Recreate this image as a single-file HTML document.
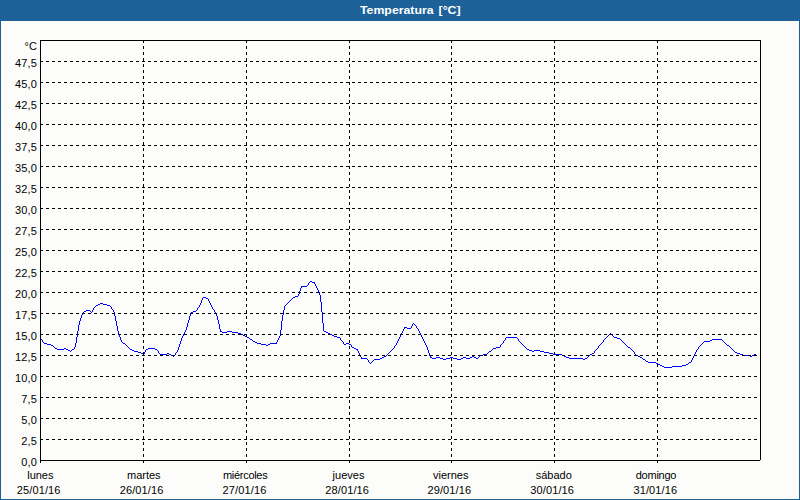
<!DOCTYPE html>
<html><head><meta charset="utf-8"><title>Temperatura</title>
<style>
html,body{margin:0;padding:0;}
body{width:800px;height:500px;overflow:hidden;background:#fcfdfa;position:relative;font-family:"Liberation Sans",sans-serif;font-size:11px;color:#000;}
#frame{position:absolute;left:0;top:0;width:798px;height:478px;border:1px solid #1c6096;border-top:21px solid #1c6096;}
#title{position:absolute;left:360px;top:0;height:20px;line-height:20px;white-space:nowrap;color:#fff;font-weight:bold;font-size:11px;transform:scaleX(1.118);transform-origin:0 0;word-spacing:1.4px;}
svg{position:absolute;left:0;top:0;}
#title{z-index:2;}
.yl{position:absolute;left:0;width:37.2px;text-align:right;height:13px;line-height:13px;white-space:nowrap;letter-spacing:0.2px;}
.xl{position:absolute;height:13px;line-height:13px;white-space:nowrap;}
</style></head><body>
<div id="frame"></div>
<div id="title"><span id="tt">Temperatura [°C]</span></div>
<svg width="800" height="500" viewBox="0 0 800 500">
<defs><pattern id="dz" x="0" y="0" width="4" height="4" patternUnits="userSpaceOnUse"><rect x="0" y="1" width="1" height="1" fill="#2468b8"/><rect x="2" y="3" width="1" height="1" fill="#2468b8"/></pattern></defs>
<rect x="0" y="0" width="800" height="21" fill="url(#dz)" shape-rendering="crispEdges"/>
<path fill="#0000ff" stroke="none" shape-rendering="crispEdges" d="M40 338h1v1h-1zM41 339h1v1h-1zM42 340h1v2h-1zM43 342h1v1h-1zM44 343h1v1h-1zM45 343h1v1h-1zM46 343h1v1h-1zM47 344h1v1h-1zM48 344h1v1h-1zM49 344h1v1h-1zM50 344h1v1h-1zM51 345h1v1h-1zM52 345h1v1h-1zM53 346h1v1h-1zM54 347h1v1h-1zM55 348h1v1h-1zM56 348h1v1h-1zM57 349h1v1h-1zM58 349h1v1h-1zM59 349h1v1h-1zM60 349h1v1h-1zM61 349h1v1h-1zM62 349h1v1h-1zM63 349h1v1h-1zM64 348h1v1h-1zM65 348h1v1h-1zM66 349h1v1h-1zM67 349h1v1h-1zM68 350h1v1h-1zM69 350h1v1h-1zM70 351h1v1h-1zM71 350h1v1h-1zM72 349h1v1h-1zM73 349h1v1h-1zM74 347h1v2h-1zM75 343h1v4h-1zM76 337h1v6h-1zM77 331h1v6h-1zM78 325h1v6h-1zM79 321h1v4h-1zM80 318h1v3h-1zM81 315h1v3h-1zM82 313h1v2h-1zM83 312h1v1h-1zM84 311h1v1h-1zM85 311h1v1h-1zM86 310h1v1h-1zM87 310h1v1h-1zM88 310h1v1h-1zM89 310h1v1h-1zM90 311h1v1h-1zM91 312h1v1h-1zM92 310h1v2h-1zM93 308h1v2h-1zM94 307h1v1h-1zM95 306h1v1h-1zM96 305h1v1h-1zM97 305h1v1h-1zM98 304h1v1h-1zM99 304h1v1h-1zM100 303h1v1h-1zM101 303h1v1h-1zM102 303h1v1h-1zM103 304h1v1h-1zM104 304h1v1h-1zM105 304h1v1h-1zM106 304h1v1h-1zM107 305h1v1h-1zM108 305h1v1h-1zM109 305h1v1h-1zM110 306h1v1h-1zM111 307h1v2h-1zM112 309h1v1h-1zM113 310h1v2h-1zM114 312h1v4h-1zM115 316h1v5h-1zM116 321h1v5h-1zM117 326h1v5h-1zM118 331h1v4h-1zM119 335h1v2h-1zM120 337h1v3h-1zM121 340h1v2h-1zM122 342h1v1h-1zM123 343h1v1h-1zM124 343h1v1h-1zM125 344h1v1h-1zM126 345h1v1h-1zM127 346h1v1h-1zM128 347h1v1h-1zM129 348h1v1h-1zM130 349h1v1h-1zM131 349h1v1h-1zM132 350h1v1h-1zM133 350h1v1h-1zM134 351h1v1h-1zM135 351h1v1h-1zM136 351h1v1h-1zM137 351h1v1h-1zM138 352h1v1h-1zM139 352h1v1h-1zM140 352h1v1h-1zM141 353h1v1h-1zM142 353h1v1h-1zM143 354h1v1h-1zM144 352h1v2h-1zM145 350h1v2h-1zM146 349h1v1h-1zM147 349h1v1h-1zM148 348h1v1h-1zM149 348h1v1h-1zM150 348h1v1h-1zM151 348h1v1h-1zM152 348h1v1h-1zM153 348h1v1h-1zM154 348h1v1h-1zM155 349h1v1h-1zM156 349h1v1h-1zM157 350h1v1h-1zM158 351h1v2h-1zM159 353h1v1h-1zM160 354h1v1h-1zM161 354h1v1h-1zM162 354h1v1h-1zM163 354h1v1h-1zM164 354h1v1h-1zM165 354h1v1h-1zM166 354h1v1h-1zM167 353h1v1h-1zM168 353h1v1h-1zM169 354h1v1h-1zM170 354h1v1h-1zM171 355h1v1h-1zM172 355h1v1h-1zM173 356h1v1h-1zM174 355h1v1h-1zM175 353h1v2h-1zM176 352h1v1h-1zM177 350h1v2h-1zM178 347h1v3h-1zM179 344h1v3h-1zM180 341h1v3h-1zM181 338h1v3h-1zM182 336h1v2h-1zM183 334h1v2h-1zM184 332h1v2h-1zM185 330h1v2h-1zM186 327h1v3h-1zM187 323h1v4h-1zM188 320h1v3h-1zM189 316h1v4h-1zM190 314h1v2h-1zM191 312h1v2h-1zM192 312h1v1h-1zM193 311h1v1h-1zM194 311h1v1h-1zM195 311h1v1h-1zM196 310h1v1h-1zM197 308h1v2h-1zM198 307h1v1h-1zM199 305h1v2h-1zM200 303h1v2h-1zM201 300h1v3h-1zM202 298h1v2h-1zM203 297h1v1h-1zM204 297h1v1h-1zM205 297h1v1h-1zM206 298h1v1h-1zM207 298h1v1h-1zM208 299h1v2h-1zM209 301h1v2h-1zM210 303h1v2h-1zM211 305h1v2h-1zM212 307h1v2h-1zM213 309h1v1h-1zM214 310h1v2h-1zM215 312h1v2h-1zM216 314h1v2h-1zM217 316h1v4h-1zM218 320h1v4h-1zM219 324h1v5h-1zM220 329h1v3h-1zM221 331h1v1h-1zM222 332h1v1h-1zM223 332h1v1h-1zM224 332h1v1h-1zM225 332h1v1h-1zM226 332h1v1h-1zM227 331h1v1h-1zM228 331h1v1h-1zM229 331h1v1h-1zM230 331h1v1h-1zM231 331h1v1h-1zM232 332h1v1h-1zM233 332h1v1h-1zM234 332h1v1h-1zM235 332h1v1h-1zM236 332h1v1h-1zM237 332h1v1h-1zM238 333h1v1h-1zM239 333h1v1h-1zM240 333h1v1h-1zM241 334h1v1h-1zM242 334h1v1h-1zM243 335h1v1h-1zM244 335h1v1h-1zM245 336h1v1h-1zM246 336h1v1h-1zM247 337h1v1h-1zM248 337h1v1h-1zM249 338h1v1h-1zM250 339h1v1h-1zM251 339h1v1h-1zM252 340h1v1h-1zM253 341h1v1h-1zM254 341h1v1h-1zM255 342h1v1h-1zM256 342h1v1h-1zM257 343h1v1h-1zM258 343h1v1h-1zM259 343h1v1h-1zM260 343h1v1h-1zM261 344h1v1h-1zM262 344h1v1h-1zM263 344h1v1h-1zM264 344h1v1h-1zM265 344h1v1h-1zM266 345h1v1h-1zM267 345h1v1h-1zM268 344h1v1h-1zM269 344h1v1h-1zM270 343h1v1h-1zM271 343h1v1h-1zM272 343h1v1h-1zM273 343h1v1h-1zM274 343h1v1h-1zM275 343h1v1h-1zM276 342h1v2h-1zM277 340h1v2h-1zM278 338h1v2h-1zM279 336h1v2h-1zM280 330h1v6h-1zM281 321h1v9h-1zM282 315h1v6h-1zM283 310h1v5h-1zM284 306h1v4h-1zM285 305h1v1h-1zM286 304h1v1h-1zM287 303h1v1h-1zM288 302h1v1h-1zM289 301h1v1h-1zM290 300h1v1h-1zM291 299h1v1h-1zM292 298h1v1h-1zM293 297h1v1h-1zM294 297h1v1h-1zM295 296h1v1h-1zM296 296h1v1h-1zM297 296h1v1h-1zM298 294h1v2h-1zM299 291h1v3h-1zM300 288h1v3h-1zM301 286h1v2h-1zM302 286h1v1h-1zM303 286h1v1h-1zM304 286h1v1h-1zM305 286h1v1h-1zM306 286h1v1h-1zM307 285h1v1h-1zM308 283h1v2h-1zM309 282h1v1h-1zM310 281h1v1h-1zM311 281h1v1h-1zM312 282h1v1h-1zM313 282h1v1h-1zM314 282h1v2h-1zM315 284h1v2h-1zM316 286h1v2h-1zM317 288h1v2h-1zM318 290h1v2h-1zM319 292h1v3h-1zM320 295h1v7h-1zM321 302h1v10h-1zM322 312h1v11h-1zM323 323h1v8h-1zM324 331h1v1h-1zM325 331h1v1h-1zM326 332h1v1h-1zM327 332h1v1h-1zM328 333h1v1h-1zM329 333h1v1h-1zM330 334h1v1h-1zM331 334h1v1h-1zM332 335h1v1h-1zM333 335h1v1h-1zM334 336h1v1h-1zM335 336h1v1h-1zM336 336h1v1h-1zM337 337h1v1h-1zM338 337h1v1h-1zM339 337h1v1h-1zM340 338h1v2h-1zM341 340h1v1h-1zM342 341h1v1h-1zM343 342h1v2h-1zM344 344h1v1h-1zM345 344h1v1h-1zM346 343h1v1h-1zM347 343h1v1h-1zM348 343h1v1h-1zM349 344h1v1h-1zM350 344h1v1h-1zM351 345h1v2h-1zM352 347h1v1h-1zM353 347h1v1h-1zM354 348h1v1h-1zM355 348h1v1h-1zM356 349h1v1h-1zM357 349h1v2h-1zM358 351h1v2h-1zM359 353h1v2h-1zM360 355h1v2h-1zM361 357h1v2h-1zM362 358h1v1h-1zM363 358h1v1h-1zM364 358h1v1h-1zM365 358h1v1h-1zM366 358h1v1h-1zM367 359h1v1h-1zM368 360h1v2h-1zM369 362h1v1h-1zM370 363h1v1h-1zM371 362h1v1h-1zM372 361h1v1h-1zM373 360h1v1h-1zM374 359h1v1h-1zM375 359h1v1h-1zM376 359h1v1h-1zM377 359h1v1h-1zM378 359h1v1h-1zM379 359h1v1h-1zM380 358h1v1h-1zM381 358h1v1h-1zM382 357h1v1h-1zM383 357h1v1h-1zM384 356h1v1h-1zM385 356h1v1h-1zM386 355h1v1h-1zM387 354h1v1h-1zM388 353h1v1h-1zM389 352h1v1h-1zM390 351h1v1h-1zM391 350h1v1h-1zM392 349h1v1h-1zM393 348h1v1h-1zM394 346h1v2h-1zM395 345h1v1h-1zM396 343h1v2h-1zM397 341h1v2h-1zM398 339h1v2h-1zM399 337h1v2h-1zM400 335h1v2h-1zM401 333h1v2h-1zM402 331h1v2h-1zM403 329h1v2h-1zM404 327h1v2h-1zM405 327h1v1h-1zM406 327h1v1h-1zM407 328h1v1h-1zM408 328h1v1h-1zM409 328h1v1h-1zM410 328h1v1h-1zM411 326h1v2h-1zM412 324h1v2h-1zM413 323h1v1h-1zM414 324h1v1h-1zM415 325h1v1h-1zM416 326h1v2h-1zM417 328h1v1h-1zM418 329h1v2h-1zM419 331h1v2h-1zM420 333h1v2h-1zM421 335h1v2h-1zM422 337h1v2h-1zM423 339h1v2h-1zM424 341h1v2h-1zM425 343h1v2h-1zM426 345h1v2h-1zM427 347h1v3h-1zM428 350h1v3h-1zM429 353h1v3h-1zM430 356h1v2h-1zM431 357h1v1h-1zM432 358h1v1h-1zM433 358h1v1h-1zM434 358h1v1h-1zM435 358h1v1h-1zM436 357h1v1h-1zM437 357h1v1h-1zM438 357h1v1h-1zM439 357h1v1h-1zM440 358h1v1h-1zM441 358h1v1h-1zM442 358h1v1h-1zM443 359h1v1h-1zM444 359h1v1h-1zM445 359h1v1h-1zM446 358h1v1h-1zM447 358h1v1h-1zM448 358h1v1h-1zM449 358h1v1h-1zM450 357h1v1h-1zM451 357h1v1h-1zM452 357h1v1h-1zM453 358h1v1h-1zM454 358h1v1h-1zM455 358h1v1h-1zM456 358h1v1h-1zM457 359h1v1h-1zM458 359h1v1h-1zM459 359h1v1h-1zM460 359h1v1h-1zM461 358h1v1h-1zM462 358h1v1h-1zM463 357h1v1h-1zM464 357h1v1h-1zM465 357h1v1h-1zM466 358h1v1h-1zM467 358h1v1h-1zM468 358h1v1h-1zM469 358h1v1h-1zM470 357h1v1h-1zM471 357h1v1h-1zM472 356h1v1h-1zM473 356h1v1h-1zM474 357h1v1h-1zM475 357h1v1h-1zM476 358h1v1h-1zM477 358h1v1h-1zM478 357h1v1h-1zM479 356h1v1h-1zM480 355h1v1h-1zM481 355h1v1h-1zM482 355h1v1h-1zM483 354h1v1h-1zM484 354h1v1h-1zM485 354h1v1h-1zM486 354h1v1h-1zM487 353h1v1h-1zM488 352h1v1h-1zM489 351h1v1h-1zM490 351h1v1h-1zM491 350h1v1h-1zM492 349h1v1h-1zM493 348h1v1h-1zM494 348h1v1h-1zM495 348h1v1h-1zM496 347h1v1h-1zM497 347h1v1h-1zM498 347h1v1h-1zM499 347h1v1h-1zM500 345h1v2h-1zM501 344h1v1h-1zM502 343h1v1h-1zM503 341h1v2h-1zM504 340h1v1h-1zM505 338h1v2h-1zM506 337h1v1h-1zM507 337h1v1h-1zM508 337h1v1h-1zM509 337h1v1h-1zM510 337h1v1h-1zM511 337h1v1h-1zM512 337h1v1h-1zM513 337h1v1h-1zM514 337h1v1h-1zM515 337h1v1h-1zM516 337h1v1h-1zM517 338h1v1h-1zM518 339h1v2h-1zM519 341h1v1h-1zM520 342h1v1h-1zM521 343h1v1h-1zM522 344h1v1h-1zM523 345h1v1h-1zM524 346h1v1h-1zM525 347h1v1h-1zM526 348h1v1h-1zM527 349h1v1h-1zM528 349h1v1h-1zM529 350h1v1h-1zM530 350h1v1h-1zM531 350h1v1h-1zM532 351h1v1h-1zM533 351h1v1h-1zM534 350h1v1h-1zM535 350h1v1h-1zM536 350h1v1h-1zM537 350h1v1h-1zM538 350h1v1h-1zM539 350h1v1h-1zM540 351h1v1h-1zM541 351h1v1h-1zM542 351h1v1h-1zM543 351h1v1h-1zM544 352h1v1h-1zM545 352h1v1h-1zM546 352h1v1h-1zM547 352h1v1h-1zM548 352h1v1h-1zM549 353h1v1h-1zM550 353h1v1h-1zM551 353h1v1h-1zM552 353h1v1h-1zM553 354h1v1h-1zM554 354h1v1h-1zM555 354h1v1h-1zM556 354h1v1h-1zM557 354h1v1h-1zM558 354h1v1h-1zM559 354h1v1h-1zM560 354h1v1h-1zM561 354h1v1h-1zM562 355h1v1h-1zM563 355h1v1h-1zM564 356h1v1h-1zM565 356h1v1h-1zM566 357h1v1h-1zM567 357h1v1h-1zM568 357h1v1h-1zM569 358h1v1h-1zM570 358h1v1h-1zM571 358h1v1h-1zM572 358h1v1h-1zM573 358h1v1h-1zM574 358h1v1h-1zM575 358h1v1h-1zM576 358h1v1h-1zM577 358h1v1h-1zM578 358h1v1h-1zM579 358h1v1h-1zM580 358h1v1h-1zM581 358h1v1h-1zM582 358h1v1h-1zM583 359h1v1h-1zM584 359h1v1h-1zM585 358h1v1h-1zM586 358h1v1h-1zM587 357h1v1h-1zM588 356h1v1h-1zM589 355h1v1h-1zM590 354h1v1h-1zM591 354h1v1h-1zM592 353h1v1h-1zM593 353h1v1h-1zM594 351h1v2h-1zM595 350h1v1h-1zM596 349h1v1h-1zM597 348h1v1h-1zM598 346h1v2h-1zM599 345h1v1h-1zM600 344h1v1h-1zM601 343h1v1h-1zM602 342h1v1h-1zM603 340h1v2h-1zM604 339h1v1h-1zM605 338h1v1h-1zM606 337h1v1h-1zM607 336h1v1h-1zM608 335h1v1h-1zM609 334h1v1h-1zM610 333h1v1h-1zM611 334h1v1h-1zM612 335h1v1h-1zM613 336h1v1h-1zM614 337h1v1h-1zM615 337h1v1h-1zM616 337h1v1h-1zM617 338h1v1h-1zM618 338h1v1h-1zM619 338h1v1h-1zM620 339h1v1h-1zM621 340h1v1h-1zM622 341h1v1h-1zM623 342h1v1h-1zM624 343h1v1h-1zM625 344h1v1h-1zM626 345h1v1h-1zM627 346h1v1h-1zM628 347h1v1h-1zM629 347h1v1h-1zM630 348h1v1h-1zM631 349h1v1h-1zM632 350h1v1h-1zM633 351h1v1h-1zM634 352h1v2h-1zM635 354h1v1h-1zM636 355h1v1h-1zM637 355h1v1h-1zM638 356h1v1h-1zM639 356h1v1h-1zM640 357h1v1h-1zM641 357h1v1h-1zM642 358h1v1h-1zM643 359h1v1h-1zM644 359h1v1h-1zM645 360h1v1h-1zM646 361h1v1h-1zM647 361h1v1h-1zM648 362h1v1h-1zM649 362h1v1h-1zM650 362h1v1h-1zM651 362h1v1h-1zM652 362h1v1h-1zM653 362h1v1h-1zM654 362h1v1h-1zM655 362h1v1h-1zM656 363h1v1h-1zM657 363h1v1h-1zM658 364h1v1h-1zM659 364h1v1h-1zM660 365h1v1h-1zM661 365h1v1h-1zM662 366h1v1h-1zM663 366h1v1h-1zM664 367h1v1h-1zM665 367h1v1h-1zM666 367h1v1h-1zM667 367h1v1h-1zM668 367h1v1h-1zM669 367h1v1h-1zM670 367h1v1h-1zM671 367h1v1h-1zM672 366h1v1h-1zM673 366h1v1h-1zM674 366h1v1h-1zM675 366h1v1h-1zM676 366h1v1h-1zM677 366h1v1h-1zM678 366h1v1h-1zM679 366h1v1h-1zM680 366h1v1h-1zM681 366h1v1h-1zM682 365h1v1h-1zM683 365h1v1h-1zM684 365h1v1h-1zM685 365h1v1h-1zM686 364h1v1h-1zM687 364h1v1h-1zM688 363h1v1h-1zM689 362h1v1h-1zM690 362h1v1h-1zM691 360h1v2h-1zM692 358h1v2h-1zM693 356h1v2h-1zM694 354h1v2h-1zM695 352h1v2h-1zM696 350h1v2h-1zM697 349h1v1h-1zM698 347h1v2h-1zM699 346h1v1h-1zM700 345h1v1h-1zM701 344h1v1h-1zM702 343h1v1h-1zM703 342h1v1h-1zM704 341h1v1h-1zM705 341h1v1h-1zM706 341h1v1h-1zM707 341h1v1h-1zM708 341h1v1h-1zM709 341h1v1h-1zM710 340h1v1h-1zM711 340h1v1h-1zM712 339h1v1h-1zM713 339h1v1h-1zM714 339h1v1h-1zM715 339h1v1h-1zM716 339h1v1h-1zM717 339h1v1h-1zM718 339h1v1h-1zM719 339h1v1h-1zM720 339h1v1h-1zM721 339h1v1h-1zM722 340h1v1h-1zM723 341h1v1h-1zM724 342h1v1h-1zM725 343h1v1h-1zM726 344h1v1h-1zM727 345h1v1h-1zM728 345h1v1h-1zM729 346h1v1h-1zM730 347h1v1h-1zM731 348h1v1h-1zM732 349h1v1h-1zM733 350h1v1h-1zM734 351h1v1h-1zM735 352h1v1h-1zM736 352h1v1h-1zM737 353h1v1h-1zM738 353h1v1h-1zM739 353h1v1h-1zM740 354h1v1h-1zM741 354h1v1h-1zM742 354h1v1h-1zM743 355h1v1h-1zM744 355h1v1h-1zM745 355h1v1h-1zM746 355h1v1h-1zM747 355h1v1h-1zM748 355h1v1h-1zM749 355h1v1h-1zM750 356h1v1h-1zM751 356h1v1h-1zM752 355h1v1h-1zM753 355h1v1h-1zM754 354h1v1h-1zM755 354h1v1h-1zM756 355h1v1h-1z"/>
<g stroke="#000" stroke-width="1" stroke-dasharray="3 3" shape-rendering="crispEdges" fill="none">
<line x1="40" y1="439.5" x2="760" y2="439.5"/>
<line x1="40" y1="418.5" x2="760" y2="418.5"/>
<line x1="40" y1="397.5" x2="760" y2="397.5"/>
<line x1="40" y1="376.5" x2="760" y2="376.5"/>
<line x1="40" y1="355.5" x2="760" y2="355.5"/>
<line x1="40" y1="334.5" x2="760" y2="334.5"/>
<line x1="40" y1="313.5" x2="760" y2="313.5"/>
<line x1="40" y1="292.5" x2="760" y2="292.5"/>
<line x1="40" y1="271.5" x2="760" y2="271.5"/>
<line x1="40" y1="250.5" x2="760" y2="250.5"/>
<line x1="40" y1="229.5" x2="760" y2="229.5"/>
<line x1="40" y1="208.5" x2="760" y2="208.5"/>
<line x1="40" y1="187.5" x2="760" y2="187.5"/>
<line x1="40" y1="166.5" x2="760" y2="166.5"/>
<line x1="40" y1="145.5" x2="760" y2="145.5"/>
<line x1="40" y1="124.5" x2="760" y2="124.5"/>
<line x1="40" y1="103.5" x2="760" y2="103.5"/>
<line x1="40" y1="82.5" x2="760" y2="82.5"/>
<line x1="40" y1="61.5" x2="760" y2="61.5"/>
<line x1="143.5" y1="40" x2="143.5" y2="463"/>
<line x1="246.5" y1="40" x2="246.5" y2="463"/>
<line x1="349.5" y1="40" x2="349.5" y2="463"/>
<line x1="451.5" y1="40" x2="451.5" y2="463"/>
<line x1="554.5" y1="40" x2="554.5" y2="463"/>
<line x1="657.5" y1="40" x2="657.5" y2="463"/>
</g>
<g stroke="#000" stroke-width="1" shape-rendering="crispEdges" fill="none">
<line x1="40.5" y1="40" x2="40.5" y2="463"/>
<line x1="760.5" y1="40" x2="760.5" y2="460"/>
<line x1="40" y1="40.5" x2="761" y2="40.5"/>
<line x1="40" y1="460.5" x2="760" y2="460.5"/>
</g>
</svg>
<div class="yl" style="top:456px">0,0</div>
<div class="yl" style="top:435px">2,5</div>
<div class="yl" style="top:414px">5,0</div>
<div class="yl" style="top:393px">7,5</div>
<div class="yl" style="top:372px">10,0</div>
<div class="yl" style="top:351px">12,5</div>
<div class="yl" style="top:330px">15,0</div>
<div class="yl" style="top:309px">17,5</div>
<div class="yl" style="top:288px">20,0</div>
<div class="yl" style="top:267px">22,5</div>
<div class="yl" style="top:246px">25,0</div>
<div class="yl" style="top:225px">27,5</div>
<div class="yl" style="top:204px">30,0</div>
<div class="yl" style="top:183px">32,5</div>
<div class="yl" style="top:162px">35,0</div>
<div class="yl" style="top:141px">37,5</div>
<div class="yl" style="top:120px">40,0</div>
<div class="yl" style="top:99px">42,5</div>
<div class="yl" style="top:78px">45,0</div>
<div class="yl" style="top:57px">47,5</div>
<div class="yl" style="top:40px">°C</div>
<div class="xl" style="left:27.20px;top:469px;letter-spacing:0.000px">lunes</div>
<div class="xl" style="left:16.80px;top:484px;letter-spacing:0.120px">25/01/16</div>
<div class="xl" style="left:127.00px;top:469px;letter-spacing:0.000px">martes</div>
<div class="xl" style="left:119.70px;top:484px;letter-spacing:0.120px">26/01/16</div>
<div class="xl" style="left:223.00px;top:469px;letter-spacing:-0.300px">miércoles</div>
<div class="xl" style="left:222.60px;top:484px;letter-spacing:0.120px">27/01/16</div>
<div class="xl" style="left:332.60px;top:469px;letter-spacing:0.000px">jueves</div>
<div class="xl" style="left:325.30px;top:484px;letter-spacing:0.120px">28/01/16</div>
<div class="xl" style="left:433.00px;top:469px;letter-spacing:0.000px">viernes</div>
<div class="xl" style="left:427.45px;top:484px;letter-spacing:0.120px">29/01/16</div>
<div class="xl" style="left:535.75px;top:469px;letter-spacing:0.000px">sábado</div>
<div class="xl" style="left:530.30px;top:484px;letter-spacing:0.120px">30/01/16</div>
<div class="xl" style="left:635.75px;top:469px;letter-spacing:-0.250px">domingo</div>
<div class="xl" style="left:633.45px;top:484px;letter-spacing:0.120px">31/01/16</div>
</body></html>
